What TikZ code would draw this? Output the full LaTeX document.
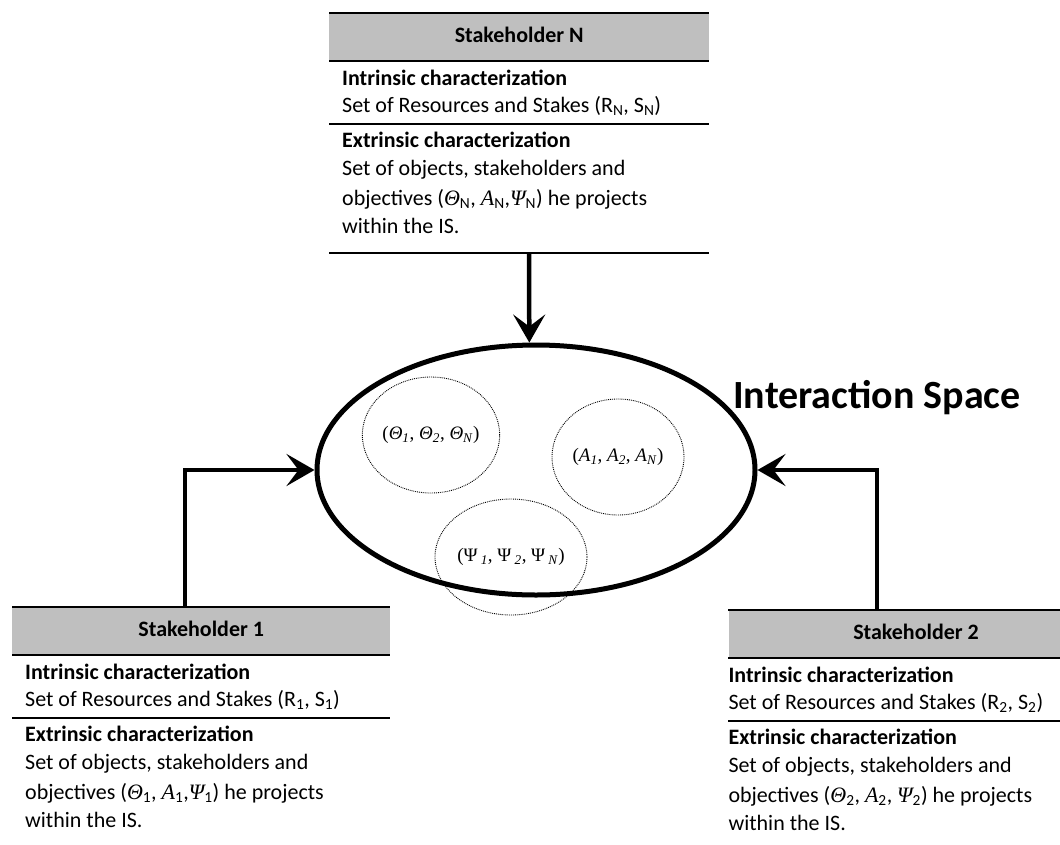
\documentclass[tikz,border=0pt]{standalone}
\usepackage{fontspec}
\setmainfont{Carlito}
\newfontfamily\serif{Liberation Serif}
\usetikzlibrary{shapes.geometric,arrows.meta,calc}

\newcommand\myTh{{\serif\itshape Θ}}
\newcommand\myA{{\serif\itshape A}}
\newcommand\myPs{{\serif\itshape Ψ}}
\newcommand\boxfont{\fontsize{22}{26}\selectfont}
\newlength\rstwo

\tikzset{
  hdr/.style={fill=black!25, draw=none, minimum height=48pt, inner sep=0pt, anchor=north west,
              font=\bfseries\boxfont},
  rule/.style={line width=2pt},
  body/.style={anchor=base west, inner sep=0pt, font=\boxfont},
  bodyb/.style={anchor=base west, inner sep=0pt, font=\bfseries\boxfont},
  conn/.style={line width=4.5pt, -{Stealth[length=28pt,width=32pt,inset=12pt]}},
  space/.style={ellipse, draw, line width=5pt, minimum width=438pt, minimum height=250pt, inner sep=0pt},
  subset/.style={ellipse, draw, densely dotted, line width=0.9pt, minimum width=132pt,
                 minimum height=116pt, inner sep=0pt, font=\serif\fontsize{19}{22}\selectfont},
}

% #1 name, #2 x, #3 y, #4 width, #5 title, #6 RS index, #7 tuple, #8 text indent
\newcommand\stakebox[8]{%
  \node[hdr, minimum width=#4pt] (#1) at (#2,#3) {\raisebox{5pt}{#5}};
  \draw[rule] (#1.north west) -- (#1.north east);
  \draw[rule] (#1.south west) -- (#1.south east);
  \node[bodyb] (#1-i) at (#2+#8,#3+72) {Intrinsic characterization};
  \node[body] (#1-rs) at (#2+#8,#3+99) {Set of Resources and Stakes (R\textsubscript{#6}, S\textsubscript{#6})};
  \draw[rule] ($(#1.south west)+(0,63)$) -- ($(#1.south east)+(0,63)$);
  \node[bodyb] (#1-e) at (#2+#8,#3+134) {Extrinsic characterization};
  \node[body] (#1-e1) at (#2+#8,#3+162) {Set of objects, stakeholders and};
  \node[body] (#1-e2) at (#2+#8,#3+192) {objectives #7 he projects};
  \node[body] (#1-e3) at (#2+#8,#3+220) {within the IS.};
}

\begin{document}
\settowidth\rstwo{\boxfont Set of Resources and Stakes (R\textsubscript{2}, S\textsubscript{2})}
\begin{tikzpicture}[x=1pt, y=-1pt]
  \useasboundingbox (0,0) rectangle (1060,844);
  \pgfmathsetmacro\twoL{1043-\rstwo}

  % Interaction space
  \node[space] (is) at (536,470) {};
  \node[subset] (th) at (431,435) {(\textit{Θ}\textsubscript{\textit{1}}, \textit{Θ}\textsubscript{\textit{2}}, \textit{Θ}\textsubscript{\textit{N}})};
  \node[subset] (al) at (618,457) {(\textit{A}\textsubscript{\textit{1}}, \textit{A}\textsubscript{\textit{2}}, \textit{A}\textsubscript{\textit{N}})};
  \node[subset] (ps) at (511,557) {(Ψ\,\textsubscript{\textit{1}}, Ψ\,\textsubscript{\textit{2}}, Ψ\,\textsubscript{\textit{N}})};
  \node[anchor=base west, inner sep=0pt, font=\bfseries\fontsize{40}{44}\selectfont] (islabel) at (733,408) {Interaction Space};

  % Stakeholders
  \stakebox{sN}{329}{13}{380}{Stakeholder N}{N}{(\myTh\textsubscript{N}, \myA\textsubscript{N},\myPs\textsubscript{N})}{13}
  \draw[rule] ($(sN.south west)+(0,192)$) -- ($(sN.south east)+(0,192)$);
  \stakebox{s1}{12}{607}{378}{Stakeholder 1}{1}{(\myTh\textsubscript{1}, \myA\textsubscript{1},\myPs\textsubscript{1})}{13}
  \stakebox{s2}{\twoL}{610}{375}{Stakeholder 2}{2}{(\myTh\textsubscript{2}, \myA\textsubscript{2}, \myPs\textsubscript{2})}{0}

  % Connectors
  \coordinate (nA) at (529,253);
  \coordinate (oneA) at (185,607);
  \coordinate (twoA) at (877,610);
  \draw[conn] (nA) -- (is.93);
  \draw[conn] (oneA) |- (is.west);
  \draw[conn] (twoA) |- (is.east);
\end{tikzpicture}
\end{document}
